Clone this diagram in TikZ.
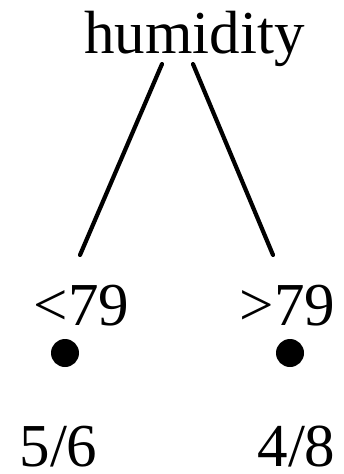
\documentclass[tikz,border=0pt]{standalone}
\usepackage{fontspec}
\setmainfont{Liberation Serif}
\begin{document}
\begin{tikzpicture}[x=1pt,y=-1pt,
  lbl/.style={anchor=base,inner sep=0pt,font=\fontsize{61}{61}\selectfont},
  leaf/.style={circle,fill=black,inner sep=0pt,minimum size=28pt},
  edge/.style={line width=4.2pt,line cap=round}]
\useasboundingbox (0,0) rectangle (343,474);
\node[lbl] (hum) at (194.5,53) {humidity};
\node[lbl] (lt) at (81.5,325) {<79};
\node[lbl] (gt) at (287.5,325) {>79};
\node[leaf] (dl) at (65,353) {};
\node[leaf] (dr) at (290,353) {};
\node[lbl,text depth=0pt] (rl) at (58.5,466) {5/6};
\node[lbl,text depth=0pt] (rr) at (296.5,466) {4/8};
\coordinate (a1) at (162,64);
\coordinate (a2) at (80,255);
\coordinate (b1) at (193,64);
\coordinate (b2) at (273,255);
\draw[edge] (a1) -- (a2);
\draw[edge] (b1) -- (b2);
\end{tikzpicture}
\end{document}
